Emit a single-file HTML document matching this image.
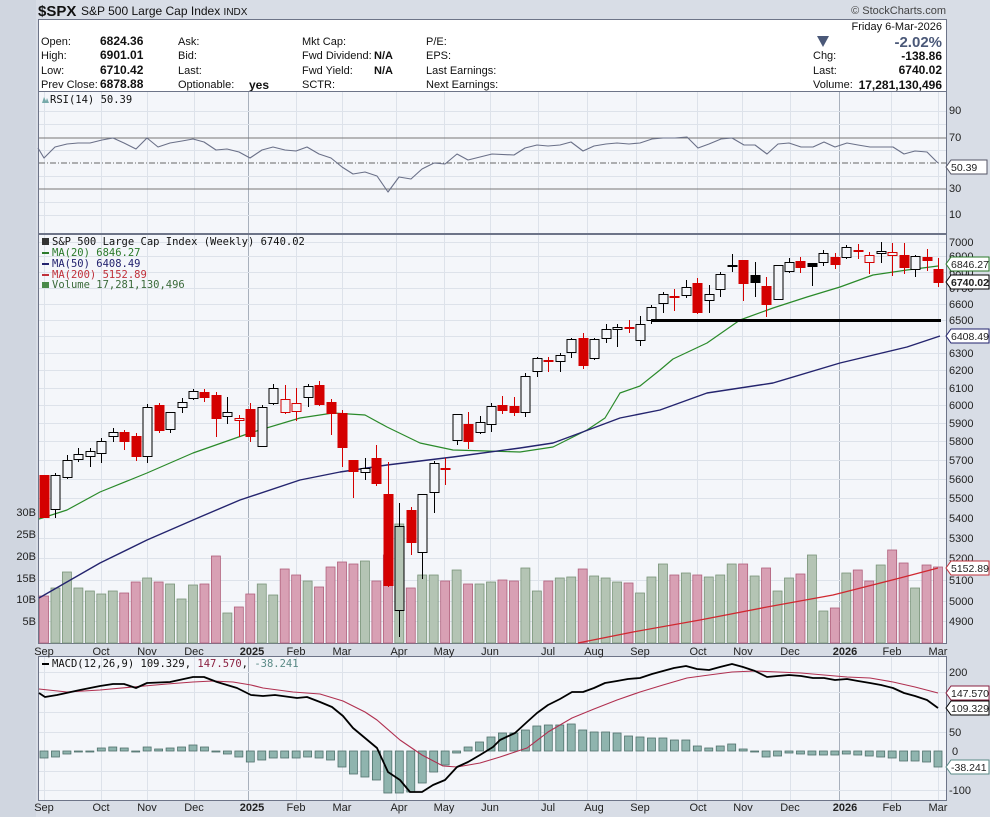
<!DOCTYPE html>
<html><head><meta charset="utf-8"><style>
html,body{margin:0;padding:0;background:#d8dde6;}
svg{display:block;font-family:"Liberation Sans",sans-serif;}
.t{font-size:11px;fill:#111}
.b{font-weight:bold}
.ax{font-size:11px;fill:#222}
.bx{font-size:10.5px;fill:#222}
.m{font-family:"DejaVu Sans Mono","Liberation Mono",monospace;font-size:10.5px}
</style></head><body>
<svg id="s" width="990" height="817" viewBox="0 0 990 817" xmlns="http://www.w3.org/2000/svg">
<rect x="0" y="0" width="990" height="817" fill="#d8dde6"/>
<rect x="0" y="0" width="36" height="817" fill="#d0d6e0"/>
<text x="38" y="16" style="font-size:15px;font-weight:bold" fill="#111">$SPX</text>
<text x="81" y="15" style="font-size:12px" fill="#111">S&amp;P 500 Large Cap Index <tspan style="font-size:10px">INDX</tspan></text>
<text x="946" y="14" text-anchor="end" style="font-size:11px" fill="#444">© StockCharts.com</text>
<!-- info box -->
<rect x="38.5" y="19.5" width="908" height="72" fill="#fff" stroke="#6d7488"/>
<g class="t">
<text x="41" y="45">Open:</text><text x="100" y="45" class="b" style="font-size:12px">6824.36</text>
<text x="41" y="59">High:</text><text x="100" y="59" class="b" style="font-size:12px">6901.01</text>
<text x="41" y="74">Low:</text><text x="100" y="74" class="b" style="font-size:12px">6710.42</text>
<text x="41" y="88">Prev Close:</text><text x="100" y="88" class="b" style="font-size:12px">6878.88</text>
<text x="178" y="45">Ask:</text><text x="178" y="59">Bid:</text><text x="178" y="74">Last:</text>
<text x="178" y="88">Optionable:</text><text x="249" y="89" class="b" style="font-size:12px">yes</text>
<text x="302" y="45">Mkt Cap:</text><text x="302" y="59">Fwd Dividend:</text><text x="374" y="59" class="b">N/A</text>
<text x="302" y="74">Fwd Yield:</text><text x="374" y="74" class="b">N/A</text><text x="302" y="88">SCTR:</text>
<text x="426" y="45">P/E:</text><text x="426" y="59">EPS:</text><text x="426" y="74">Last Earnings:</text><text x="426" y="88">Next Earnings:</text>
<text x="942" y="30" text-anchor="end">Friday  6-Mar-2026</text>
<text x="942" y="47" text-anchor="end" class="b" style="font-size:15px" fill="#4a5878">-2.02%</text>
<text x="813" y="59">Chg:</text><text x="942" y="60" text-anchor="end" class="b" style="font-size:12px">-138.86</text>
<text x="813" y="74">Last:</text><text x="942" y="74" text-anchor="end" class="b" style="font-size:12px">6740.02</text>
<text x="813" y="88">Volume:</text><text x="942" y="89" text-anchor="end" class="b" style="font-size:12px">17,281,130,496</text>
</g>
<polygon points="817,36 829,36 823,47" fill="#4a5878"/>
<!-- panels -->
<rect x="38.5" y="91.5" width="908" height="142" fill="#f4f6fa" stroke="#6d7488"/>
<rect x="38.5" y="234.5" width="908" height="409" fill="#f4f6fa" stroke="#6d7488"/>
<rect x="38.5" y="656.5" width="908" height="144" fill="#f4f6fa" stroke="#6d7488"/>
<g id="grid"></g>
<line x1="39" y1="138" x2="946" y2="138" stroke="#777" stroke-width="1"/>
<line x1="39" y1="189" x2="946" y2="189" stroke="#777" stroke-width="1"/>
<line x1="39" y1="163" x2="946" y2="163" stroke="#666" stroke-dasharray="6,2,1,2"/>
<g id="draw"></g>
<line x1="651" y1="320.5" x2="941" y2="320.5" stroke="#000" stroke-width="3"/>
<g class="m">
<text x="50" y="103" fill="#111">RSI(14) 50.39</text>
<polygon points="42,103 44,97 46,101 47,98 49,103" fill="#7aa"/>
<text x="52" y="245" fill="#111">S&amp;P 500 Large Cap Index (Weekly) 6740.02</text>
<rect x="42" y="238" width="7" height="7" fill="#333"/>
<line x1="42" y1="253" x2="49" y2="253" stroke="#2a7a2a" stroke-width="2"/><text x="52" y="256" fill="#2a7a2a">MA(20) 6846.27</text>
<line x1="42" y1="264" x2="49" y2="264" stroke="#22226e" stroke-width="2"/><text x="52" y="267" fill="#22226e">MA(50) 6408.49</text>
<line x1="42" y1="275" x2="49" y2="275" stroke="#c0303a" stroke-width="2"/><text x="52" y="278" fill="#c0303a">MA(200) 5152.89</text>
<rect x="42" y="282" width="7" height="6" fill="#4a8a4a"/><text x="52" y="288" fill="#3a6a3a">Volume 17,281,130,496</text>
<line x1="42" y1="664" x2="49" y2="664" stroke="#000" stroke-width="2"/>
<text x="52" y="667" fill="#111">MACD(12,26,9) 109.329, <tspan fill="#8a2040">147.570</tspan>, <tspan fill="#5a8a86">-38.241</tspan></text>
</g>
<g class="ax">
<text x="949" y="114">90</text><text x="949" y="141">70</text><text x="949" y="192">30</text><text x="949" y="218">10</text>
<text x="949" y="246">7000</text><text x="949" y="260">6900</text><text x="949" y="276">6800</text><text x="949" y="292">6700</text>
<text x="949" y="308">6600</text><text x="949" y="324">6500</text><text x="949" y="357">6300</text><text x="949" y="374">6200</text>
<text x="949" y="392">6100</text><text x="949" y="409">6000</text><text x="949" y="427">5900</text><text x="949" y="445">5800</text>
<text x="949" y="464">5700</text><text x="949" y="483">5600</text><text x="949" y="502">5500</text><text x="949" y="522">5400</text>
<text x="949" y="542">5300</text><text x="949" y="562">5200</text><text x="949" y="584">5100</text><text x="949" y="605">5000</text>
<text x="949" y="625">4900</text>
<text x="949" y="676">200</text><text x="949" y="736">50</text><text x="952" y="755">0</text><text x="949" y="794">-100</text>
<text x="36" y="516" text-anchor="end">30B</text><text x="36" y="538" text-anchor="end">25B</text><text x="36" y="560" text-anchor="end">20B</text>
<text x="36" y="582" text-anchor="end">15B</text><text x="36" y="603" text-anchor="end">10B</text><text x="36" y="625" text-anchor="end">5B</text>
</g>
<g class="bx">
<path d="M946,167 l5,-7 h36 v14 h-36 z" fill="#fff" stroke="#556"/><text x="951" y="171">50.39</text>
<path d="M946,264 l5,-7 h38 v14 h-38 z" fill="#fff" stroke="#2a7a2a"/><text x="951" y="268">6846.27</text>
<path d="M946,282 l5,-7 h38 v14 h-38 z" fill="#fff" stroke="#000"/><text x="951" y="286" class="b">6740.02</text>
<path d="M946,336 l5,-7 h38 v14 h-38 z" fill="#fff" stroke="#22226e"/><text x="951" y="340">6408.49</text>
<path d="M946,568 l5,-7 h38 v14 h-38 z" fill="#fff" stroke="#c0303a"/><text x="951" y="572">5152.89</text>
<path d="M946,693 l5,-7 h38 v14 h-38 z" fill="#fff" stroke="#8a2040"/><text x="951" y="697">147.570</text>
<path d="M946,708 l5,-7 h38 v14 h-38 z" fill="#fff" stroke="#000"/><text x="951" y="712">109.329</text>
<path d="M946,767 l5,-7 h38 v14 h-38 z" fill="#fff" stroke="#5a8a86"/><text x="951" y="771">-38.241</text>
</g>
<g class="ax" text-anchor="middle">
<text x="44" y="655">Sep</text><text x="101" y="655">Oct</text><text x="147" y="655">Nov</text><text x="194" y="655">Dec</text><text x="252" y="655" class="b">2025</text><text x="296" y="655">Feb</text><text x="342" y="655">Mar</text><text x="399" y="655">Apr</text><text x="444" y="655">May</text><text x="490" y="655">Jun</text><text x="548" y="655">Jul</text><text x="594" y="655">Aug</text><text x="640" y="655">Sep</text><text x="698" y="655">Oct</text><text x="743" y="655">Nov</text><text x="790" y="655">Dec</text><text x="845" y="655" class="b">2026</text><text x="892" y="655">Feb</text><text x="938" y="655">Mar</text>
<text x="44" y="811">Sep</text><text x="101" y="811">Oct</text><text x="147" y="811">Nov</text><text x="194" y="811">Dec</text><text x="252" y="811" class="b">2025</text><text x="296" y="811">Feb</text><text x="342" y="811">Mar</text><text x="399" y="811">Apr</text><text x="444" y="811">May</text><text x="490" y="811">Jun</text><text x="548" y="811">Jul</text><text x="594" y="811">Aug</text><text x="640" y="811">Sep</text><text x="698" y="811">Oct</text><text x="743" y="811">Nov</text><text x="790" y="811">Dec</text><text x="845" y="811" class="b">2026</text><text x="892" y="811">Feb</text><text x="938" y="811">Mar</text>
</g>
</svg>
<script>
(function(){
var NS="http://www.w3.org/2000/svg";
function el(p,n,a){var e=document.createElementNS(NS,n);for(var k in a)e.setAttribute(k,a[k]);p.appendChild(e);return e;}
var G=document.getElementById("grid"),D=document.getElementById("draw");
var X=function(i){return 44+i*894/78;};
var months=[44,101,147,194,248,296,342,396,444,490,538,587,636,697,742,790,839,891,938];
months.forEach(function(x){var dark=(x==248||x==839);
 [[92,233],[235,643],[657,800]].forEach(function(r){el(G,"line",{x1:x+.5,y1:r[0],x2:x+.5,y2:r[1],stroke:dark?"#a8b0bc":"#dde2ea"});});});
var pys=[242,256,272,288,304,320,336,353,370,388,405,423,441,460,479,498,518,538,558,580,601,621];
pys.forEach(function(y){el(G,"line",{x1:39,y1:y+.5,x2:946,y2:y+.5,stroke:"#dde2ea"});});
[111,124,150,176,202,215].forEach(function(y){el(G,"line",{x1:39,y1:y+.5,x2:946,y2:y+.5,stroke:"#dde2ea"});});
[672,692,712,732,771,790].forEach(function(y){el(G,"line",{x1:39,y1:y+.5,x2:946,y2:y+.5,stroke:"#dde2ea"});});
var vol=[596,588,572,588,591,594,591,593,582,578,582,584,599,585,584,556,613,607,594,584,595,569,575,581,587,567,562,564,561,581,555,524,588,575,575,581,570,584,584,582,580,581,568,591,581,578,577,569,576,578,582,583,593,577,564,575,573,575,577,575,564,564,576,568,591,578,574,555,611,608,573,570,581,565,550,563,588,565,567];
var C=[["R",475,475,518,518],["W",473,475,510,518],["W",455,460,478,479],["W",448,454,460,462],["W",448,451,457,467],["W",438,441,454,463],["W",428,432,437,442],["R",430,432,442,450],["R",433,436,457,461],["W",404,407,457,463],
["R",403,405,431,433],["W",412,412,430,433],["W",398,402,408,413],["W",389,391,399,400],["R",389,392,398,402],["R",392,395,419,437],["W",397,412,417,424],["r",415,418,421,437],["R",403,409,437,442],["W",405,407,447,447],
["W",384,388,404,405],["r",385,399,413,414],["r",388,403,412,421],["W",384,386,398,407],["R",381,385,405,406],["R",399,402,414,435],["R",410,413,448,467],["R",460,460,472,498],["W",458,468,473,480],["R",445,458,484,486],
["R",462,494,586,587],["W",503,526,611,637],["R",507,510,543,555],["W",494,494,553,579],["W",461,463,493,513],["R",458,468,470,485],["W",414,414,441,445],["R",412,424,442,449],["W",416,422,433,434],["W",403,406,425,432],
["R",396,405,411,414],["R",397,406,413,416],["W",373,376,413,417],["W",357,358,372,377],["R",357,360,362,372],["W",353,355,362,372],["W",338,339,353,358],["R",333,338,366,369],["W",338,339,359,360],["W",324,329,339,343],
["W",324,327,330,347],["R",320,327,329,333],["W",316,324,341,346],["W",305,307,321,324],["W",292,294,304,313],["R",289,296,298,311],["W",280,287,296,298],["R",278,283,313,314],["W",285,294,301,313],["W",272,274,290,297],
["B",254,265,267,272],["R",260,260,284,301],["B",262,275,283,297],["R",277,286,305,317],["W",265,265,300,300],["W",258,262,272,273],["R",257,261,268,273],["B",263,263,267,286],["W",250,253,263,266],["R",253,257,265,269],
["W",245,247,258,259],["R",244,250,252,259],["r",252,255,263,274],["W",242,251,254,263],["r",243,252,256,276],["R",243,255,268,274],["W",255,256,270,277],["R",249,257,261,271],["R",258,269,283,287]];
for(var i=0;i<79;i++){var x=X(i),red=(C[i][0]=="R"||C[i][0]=="r");
 el(D,"rect",{x:x-4.5,y:vol[i],width:9,height:643-vol[i],fill:red?"#d8a0b4":"#b4c4b4",stroke:red?"#b0607c":"#7a947a","stroke-width":0.8});}
function line(pts,col,w){el(D,"polyline",{points:pts.map(function(p){return p.join(",");}).join(" "),fill:"none",stroke:col,"stroke-width":w||1.2,"stroke-linejoin":"round"});}
line([[578,643],[633,632],[700,620],[767,607],[833,595],[900,578],[938,568]],"#d02830",1.3);
line([[39,519],[67,510],[100,492],[147,473],[193,453],[250,433],[300,418],[333,413],[365,415],[387,427],[420,443],[453,450],[487,451],[520,452],[553,447],[587,430],[605,418],[620,393],[640,386],[660,370],[673,359],[707,343],[740,320],[773,308],[807,297],[840,287],[873,275],[907,270],[938,266]],"#2a8a2a",1.2);
line([[39,598],[100,563],[147,540],[200,517],[240,500],[300,480],[340,472],[387,465],[453,457],[520,448],[553,443],[580,433],[620,418],[660,410],[707,393],[773,383],[840,363],[907,347],[940,336]],"#24246e",1.4);
for(var i=0;i<79;i++){var c=C[i],x=Math.round(X(i)),t=c[0];
 var col=(t=="R"||t=="r")?"#d40000":"#000";
 el(D,"line",{x1:x+.5,y1:c[1],x2:x+.5,y2:c[4],stroke:col,"stroke-width":1});
 var h=Math.max(c[3]-c[2],2);
 var fill=(t=="R"||t=="B")?col:"#f4f6fa";
 if(i==31)fill="#b4c4b4";
 el(D,"rect",{x:x-4,y:c[2]+.5,width:9,height:h-1,fill:fill,stroke:col,"stroke-width":1});}
line([[38,148],[44,158],[55,147],[67,144],[78,143],[90,143],[102,140],[113,138],[124,143],[136,149],[147,138],[158,147],[170,143],[182,141],[193,139],[204,142],[216,150],[227,149],[239,152],[250,158],[262,150],[273,147],[285,150],[296,151],[307,147],[319,154],[331,158],[342,167],[353,174],[365,172],[377,176],[388,192],[399,177],[411,179],[422,169],[434,163],[445,164],[457,154],[468,160],[480,157],[492,154],[514,155],[525,148],[537,145],[548,146],[560,145],[571,142],[583,151],[594,146],[606,144],[617,143],[629,144],[640,143],[652,139],[663,138],[675,138],[687,137],[698,148],[709,144],[721,139],[732,138],[744,145],[755,145],[767,154],[778,144],[789,143],[801,147],[813,147],[824,142],[835,147],[847,143],[858,145],[870,147],[881,147],[893,147],[904,154],[915,151],[927,152],[938,163]],"#6a7088",1.1);
var H=[758,757,754,751,751,748,747,748,751,747,749,748,747,745,747,751,754,757,762,760,758,758,758,757,758,760,767,774,777,780,793,793,792,783,772,765,753,747,742,737,733,733,730,726,725,725,724,730,732,732,733,736,737,738,738,740,740,746,748,746,744,749,751,757,756,753,754,755,755,755,754,755,756,757,758,761,761,762,767];
for(var i=0;i<79;i++){var x=X(i),y=H[i],t=Math.min(y,751),h=Math.max(Math.abs(y-751),1);
 el(D,"rect",{x:x-4,y:t,width:8,height:h,fill:"#8fb4ae",stroke:"#4f716c","stroke-width":0.8});}
line([[39,689],[67,692],[100,690],[133,687],[167,684],[193,682],[213,681],[233,682],[251,685],[263,688],[293,692],[320,694],[343,701],[365,712],[377,720],[400,740],[422,755],[443,766],[457,767],[480,763],[500,757],[527,748],[548,732],[572,718],[594,709],[617,700],[640,692],[663,685],[687,678],[709,675],[732,672],[755,671],[778,672],[801,673],[824,675],[847,677],[870,678],[893,682],[915,687],[938,693]],"#b03050",1.1);
line([[39,693],[45,697],[57,695],[80,690],[100,686],[113,684],[124,684],[136,688],[147,683],[170,682],[193,677],[204,677],[217,682],[237,688],[251,695],[263,696],[275,695],[297,698],[307,697],[320,702],[332,707],[343,716],[353,728],[365,738],[377,748],[388,772],[400,780],[410,792],[422,792],[433,785],[445,780],[457,767],[468,762],[480,755],[493,747],[500,740],[515,733],[527,722],[537,713],[548,705],[560,699],[572,692],[583,692],[594,688],[605,683],[617,681],[628,679],[640,678],[652,674],[663,671],[674,668],[686,666],[697,669],[709,670],[720,667],[732,664],[743,667],[755,671],[767,677],[778,676],[789,675],[801,676],[813,678],[824,678],[835,680],[847,679],[858,681],[870,683],[881,685],[893,688],[904,693],[915,696],[927,700],[938,708]],"#000",1.8);
})();
</script>
</body></html>
